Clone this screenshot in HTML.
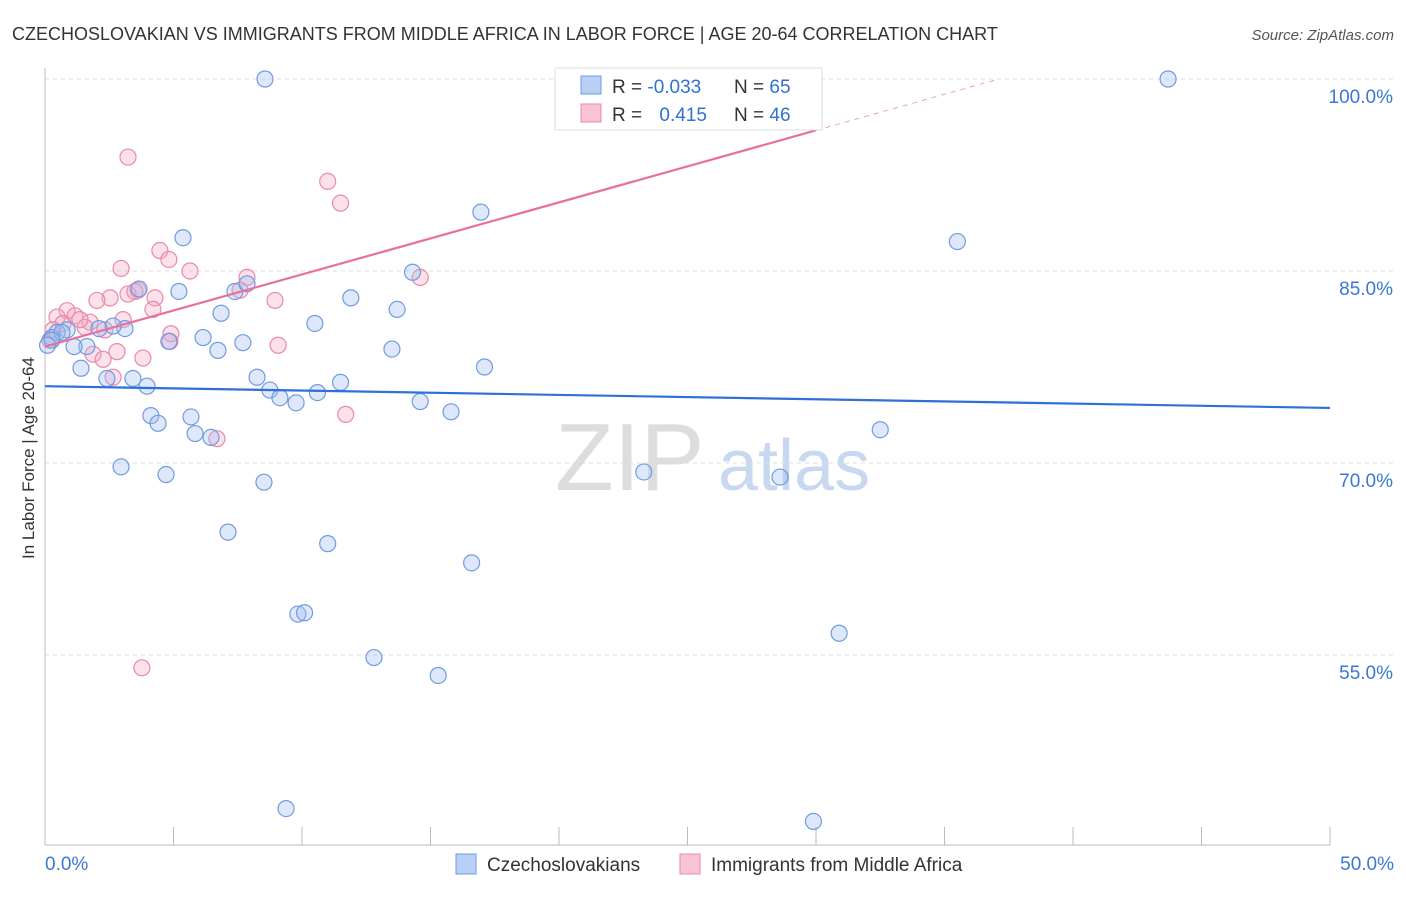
<!DOCTYPE html>
<html><head><meta charset="utf-8"><style>
body{margin:0;background:#fff;font-family:"Liberation Sans",sans-serif;}
svg text{font-family:"Liberation Sans",sans-serif;}
</style></head><body>
<svg id="c" width="1406" height="892">
<text x="12" y="40" font-size="18" fill="#333">CZECHOSLOVAKIAN VS IMMIGRANTS FROM MIDDLE AFRICA IN LABOR FORCE | AGE 20-64 CORRELATION CHART</text>
<text x="1394" y="40" font-size="15" fill="#555" text-anchor="end" font-style="italic">Source: ZipAtlas.com</text>
<text x="34" y="458" font-size="17" fill="#333" text-anchor="middle" transform="rotate(-90 34 458)">In Labor Force | Age 20-64</text>
<g><text x="555" y="490" font-size="96" fill="#ddd" font-family="Liberation Serif">ZIP</text><text x="718" y="490" font-size="72" fill="#c8d8f0">atlas</text></g>
<g id="grid"></g><g id="marks"></g>
<g>
<rect x="555" y="68" width="267" height="62" fill="#fff" stroke="#ddd"/>
<rect x="581" y="76" width="20" height="18" fill="#b8d0f4" stroke="#6f9be0"/>
<text x="612" y="93" font-size="19" fill="#333">R = <tspan fill="#2f6fd6">-0.033</tspan></text>
<text x="734" y="93" font-size="19" fill="#333">N = <tspan fill="#2f6fd6">65</tspan></text>
<rect x="581" y="104" width="20" height="18" fill="#f8c4d4" stroke="#e889a8"/>
<text x="612" y="121" font-size="19" fill="#333">R = <tspan fill="#2f6fd6" dx="12">0.415</tspan></text>
<text x="734" y="121" font-size="19" fill="#333">N = <tspan fill="#2f6fd6">46</tspan></text>
</g>
<g>
<rect x="456" y="854" width="20" height="20" fill="#b8d0f4" stroke="#6f9be0"/>
<text x="487" y="871" font-size="19" fill="#333">Czechoslovakians</text>
<rect x="680" y="854" width="20" height="20" fill="#f8c4d4" stroke="#e889a8"/>
<text x="711" y="871" font-size="19" fill="#333">Immigrants from Middle Africa</text>
</g>
</svg>
<script>
const yTicks=[100,85,70,55];
const xTickLabels=["0.0%","50.0%"];
const blueX=[8.56,43.7,5.37,16.96,35.5,14.3,5.21,3.66,7.39,7.86,11.9,13.7,6.85,10.5,3.11,2.65,2.10,0.86,0.47,0.27,0.66,1.63,1.13,6.15,4.82,7.70,6.73,13.5,17.1,1.40,2.41,3.42,3.97,8.25,11.5,8.75,9.14,10.6,9.77,14.6,15.8,4.12,5.68,4.40,5.84,6.46,32.5,2.96,4.71,23.3,28.6,8.52,7.12,11.0,16.6,9.84,10.1,30.9,12.8,15.3,9.38,29.9,0.27,0.1];
const blueY=[100,100,87.6,89.6,87.3,84.9,83.4,83.6,83.4,84.0,82.9,82.0,81.7,80.9,80.5,80.7,80.5,80.4,80.2,79.8,80.2,79.1,79.1,79.8,79.5,79.4,78.8,78.9,77.5,77.4,76.6,76.6,76.0,76.7,76.3,75.7,75.1,75.5,74.7,74.8,74.0,73.7,73.6,73.1,72.3,72.0,72.6,69.7,69.1,69.3,68.9,68.5,64.6,63.7,62.2,58.2,58.3,56.7,54.8,53.4,43.0,42.0,79.6,79.2];
const pinkX=[3.23,11.0,11.5,4.47,4.82,5.64,2.96,7.86,14.6,3.62,2.53,2.02,3.23,4.28,4.20,8.95,0.86,0.47,1.17,1.75,3.04,1.56,0.70,4.90,0.31,0.19,4.86,9.07,2.80,1.87,2.26,3.81,2.65,11.7,6.69,3.77,1.36,2.33,3.50,7.59];
const pinkY=[93.9,92.0,90.3,86.6,85.9,85.0,85.2,84.5,84.5,83.5,82.9,82.7,83.2,82.9,82.0,82.7,81.9,81.4,81.5,81.0,81.2,80.6,80.9,80.1,80.4,79.6,79.5,79.2,78.7,78.5,78.1,78.2,76.7,73.8,71.9,54.0,81.2,80.4,83.4,83.5];
const blueTrend=[76.0,74.3];
const pinkTrend=[79.1,0.563];
const X=v=>45+v*25.7, Y=v=>79+(100-v)*12.8;
const NS="http://www.w3.org/2000/svg";
const grid=document.getElementById('grid'), marks=document.getElementById('marks');
function mk(p,tag,a){const e=document.createElementNS(NS,tag);for(const k in a)e.setAttribute(k,a[k]);p.appendChild(e);return e;}
yTicks.forEach(t=>{
 const l=mk(grid,'line',{x1:45,x2:1394,y1:Y(t),y2:Y(t),stroke:'#ddd','stroke-dasharray':'4 4'});
 
 
 const tx=mk(grid,'text',{x:1393,y:Y(t)+24,'font-size':19,fill:'#3a78d8','text-anchor':'end'});tx.textContent=t.toFixed(1)+'%';
 
 
});
mk(grid,'line',{x1:45,x2:45,y1:68,y2:845,stroke:'#bbb'});
mk(grid,'line',{x1:45,x2:1330,y1:845,y2:845,stroke:'#bbb'});
for(let i=0;i<=10;i++){const t=mk(grid,'line',{x1:X(i*5),x2:X(i*5),y1:827,y2:845,stroke:'#bbb'});
 
 }
[[0,'start',45],[50,'end',1394]].forEach((d,i)=>{const t=mk(grid,'text',{x:d[2],y:870,'font-size':19,fill:'#3a78d8','text-anchor':d[1]});t.textContent=xTickLabels[i];
 
 });
function pts(xs,ys,fill,stroke,name){xs.forEach((x,i)=>{const c=mk(marks,'circle',{cx:X(x),cy:Y(ys[i]),r:8,fill:fill,stroke:stroke,'stroke-width':1.2});
 
 });}
pts(pinkX,pinkY,'rgba(245,170,195,0.35)','#e889a8','pink-point');
pts(blueX,blueY,'rgba(160,190,240,0.35)','#6f9be0','blue-point');
const bl=mk(marks,'line',{x1:X(0),y1:Y(blueTrend[0]),x2:X(50),y2:Y(blueTrend[1]),stroke:'#2f6fd6','stroke-width':2.2});


const pe=30, pEnd=(100-pinkTrend[0])/pinkTrend[1];
const pl=mk(marks,'line',{x1:X(0),y1:Y(pinkTrend[0]),x2:X(pe),y2:Y(pinkTrend[0]+pinkTrend[1]*pe),stroke:'#e8709a','stroke-width':2.2});


const pd=mk(marks,'line',{x1:X(pe),y1:Y(pinkTrend[0]+pinkTrend[1]*pe),x2:X(pEnd),y2:Y(100),stroke:'#e8a0b8','stroke-width':1,'stroke-dasharray':'5 5'});


</script>
</body></html>
